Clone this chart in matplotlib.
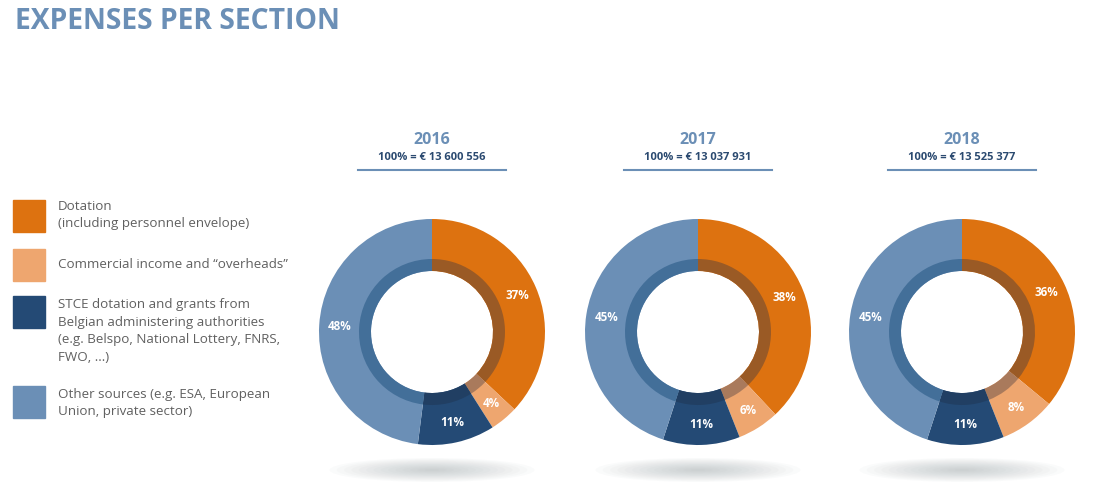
import matplotlib.pyplot as plt
from matplotlib.patches import Ellipse, Rectangle

plt.rcParams['font.family'] = ['Open Sans', 'DejaVu Sans']

# data
years = ['2016', '2017', '2018']
totals = ['100% = € 13 600 556', '100% = € 13 037 931', '100% = € 13 525 377']
dotation = [37, 38, 36]
commercial = [4, 6, 8]
stce = [11, 11, 11]
other = [48, 45, 45]
categories = ['Dotation\n(including personnel envelope)',
              'Commercial income and \u201coverheads\u201d',
              'STCE dotation and grants from\nBelgian administering authorities\n(e.g. Belspo, National Lottery, FNRS,\nFWO, ...)',
              'Other sources (e.g. ESA, European\nUnion, private sector)']

colors = ['#dd7210', '#eea66f', '#244a75', '#6b8fb6']
dark = ['#9a5a25', '#a97a5c', '#213f63', '#436f99']
title_col = '#6b8fb6'
sub_col = '#2b4a70'

W, H = 1100, 499
fig = plt.figure(figsize=(11, 4.99), dpi=100)

# overlay axes in pixel coords for text / decorations
bg = fig.add_axes([0, 0, 1, 1])
bg.set_xlim(0, W)
bg.set_ylim(H, 0)
bg.axis('off')

bg.text(15, 21, 'EXPENSES PER SECTION', fontsize=20.3, fontweight='bold',
        color=title_col, va='center', ha='left')

# legend
sq_y = [216, 265, 312, 402]
txt_y = [215, 265, 331, 403]
for i, lab in enumerate(categories):
    bg.add_patch(Rectangle((13, sq_y[i] - 16), 32, 32, color=colors[i]))
    bg.text(58, txt_y[i], lab, fontsize=9.6, color='#606060', va='center',
            ha='left', linespacing=1.45)

centers = [432, 698, 962]
cy = 332
R = 113.0

for i, yr in enumerate(years):
    cx = centers[i]
    vals = [dotation[i], commercial[i], stce[i], other[i]]

    # shadow
    for k in range(14):
        f = 1 - k / 14
        bg.add_patch(Ellipse((cx, 470), 205 * f, 24 * f, color='#8a969c',
                             alpha=0.035, lw=0))

    # header
    bg.text(cx, 140, yr, fontsize=11.5, fontweight='bold', color=title_col,
            ha='center', va='center')
    bg.text(cx, 157, totals[i], fontsize=8, fontweight='bold', color=sub_col,
            ha='center', va='center')
    bg.plot([cx - 74, cx + 74], [170, 170], color=title_col, lw=1.5)

    s = 125
    ax = fig.add_axes([(cx - s) / W, 1 - (cy + s) / H, 2 * s / W, 2 * s / H])
    ax.pie(vals, colors=colors, startangle=90, counterclock=False, radius=1,
           wedgeprops=dict(width=(R - 61) / R, linewidth=0),
           autopct='%d%%', pctdistance=(R - 20) / R,
           textprops=dict(color='white', fontsize=8.4, fontweight='bold'))
    ax.pie(vals, colors=dark, startangle=90, counterclock=False,
           radius=73 / R, wedgeprops=dict(width=12 / R, linewidth=0))
    ax.set_xlim(-s / R, s / R)
    ax.set_ylim(-s / R, s / R)
    ax.set_aspect('equal')
    ax.axis('off')

fig.savefig('out.png', dpi=100, facecolor='white')
